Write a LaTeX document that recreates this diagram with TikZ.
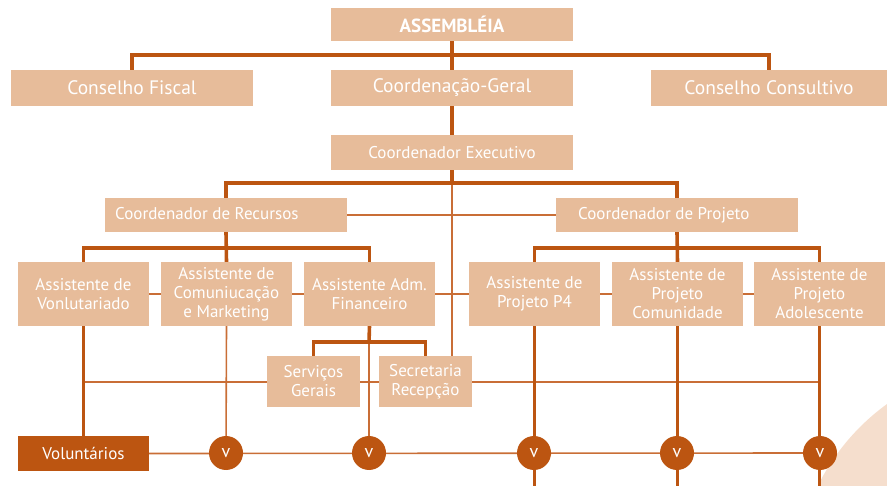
\documentclass[tikz,border=0pt]{standalone}
\usepackage{fontspec}
\setmainfont{PT Sans}
\usetikzlibrary{backgrounds}
\definecolor{boxc}{HTML}{E7BC9A}
\definecolor{dk}{HTML}{BC5511}
\definecolor{thinc}{HTML}{C96E36}
\definecolor{deco}{HTML}{F5DECD}
\tikzset{
  x=1pt,y=-1pt,
  box/.style={fill=boxc,text=white,inner sep=0pt,align=center,font=\fontsize{17}{19}\selectfont},
  bigbox/.style={box,minimum width=242pt,minimum height=36pt,font=\fontsize{19.5}{20}\selectfont},
  asst/.style={box,minimum width=131pt,minimum height=64pt},
  small/.style={box,minimum width=93pt,minimum height=51pt},
  vcirc/.style={circle,fill=dk,text=white,minimum size=34pt,inner sep=0pt,font=\fontsize{18}{18}\selectfont},
  thick line/.style={draw=dk,line width=3.6pt},
  thin line/.style={draw=thinc,line width=1.6pt},
  lbl/.style={text=white,inner sep=0pt,font=\fontsize{17}{19}\selectfont,anchor=west}
}
\begin{document}
\begin{tikzpicture}
\useasboundingbox (0,0) rectangle (887,486);
% boxes
\node[box,minimum width=242pt,minimum height=33pt,font=\bfseries\fontsize{19}{20}\selectfont] (asm) at (452,24.5) {ASSEMBLÉIA};
\node[bigbox] (cf) at (132,88) {Conselho Fiscal};
\node[bigbox] (cg) at (452,88) {Coordenação-Geral};
\node[bigbox,minimum width=236pt] (cc) at (769,88) {Conselho Consultivo};
\node[box,minimum width=242pt,minimum height=35pt] (ce) at (452,152.5) {Coordenador Executivo};
\node[box,minimum width=242pt,minimum height=34pt] (cr) at (226,215) {};
\node[lbl] (crt) at (115,214) {Coordenador de Recursos};
\node[box,minimum width=242pt,minimum height=34pt] (cp) at (677,215) {};
\node[lbl] (cpt) at (578,215) {Coordenador de Projeto};
\node[asst] (av) at (83.5,294) {Assistente de\\Vonlutariado};
\node[asst] (ac) at (226.5,294) {Assistente de\\Comuniucação\\e Marketing};
\node[asst] (aa) at (369.5,294) {Assistente Adm.\\Financeiro};
\node[asst] (ap) at (534.5,294) {Assistente de\\Projeto P4};
\node[asst] (am) at (677.5,294) {Assistente de\\Projeto\\Comunidade};
\node[asst] (ad) at (819.5,294) {Assistente de\\Projeto\\Adolescente};
\node[small] (sg) at (313.5,381.5) {Serviços\\Gerais};
\node[small] (sr) at (425.5,381.5) {Secretaria\\Recepção};
\node[box,fill=dk,minimum width=131pt,minimum height=35pt] (vol) at (83.5,453.5) {Voluntários};
\node[vcirc] (v1) at (226,453) {v};
\node[vcirc] (v2) at (369,453) {v};
\node[vcirc] (v3) at (534,453) {v};
\node[vcirc] (v4) at (677,453) {v};
\node[vcirc] (v5) at (820,453) {v};
% coordinates
\coordinate (b1) at (452,55);
\coordinate (b2) at (452,183);
\coordinate (b3) at (226,248);
\coordinate (b4) at (677,248);
\coordinate (b5) at (369,342);
\coordinate (h1) at (84,382);
\coordinate (h2) at (820,382);
\begin{scope}[on background layer]
  \begin{scope}
    \clip (0,0) rectangle (887,486);
    \fill[deco] (1017,584) circle (222);
  \end{scope}
  % thin lines
  \draw[thin line] (ce.south) -- (ce.south |- sr.north);
  \draw[thin line] (cr.east) -- (cp.west);
  \draw[thin line] (av.east) -- (ad.west);
  \draw[thin line] (h1) -- (h2);
  \draw[thin line] (ac.south) -- (v1);
  \draw[thin line] (b5) -- (v2);
  \draw[thin line] (vol.east) -- (v5);
  % thick lines
  \draw[thick line] (asm.south) -- (cg.north);
  \draw[thick line] (cf.north) |- (b1) -| (cc.north);
  \draw[thick line] (cg.south) -- (ce.north);
  \draw[thick line] (ce.south) -- (b2);
  \draw[thick line] (cr.north) |- (b2) -| (cp.north);
  \draw[thick line] (cr.south) -- (ac.north);
  \draw[thick line] (av.north) |- (b3) -| (aa.north);
  \draw[thick line] (cp.south) -- (am.north);
  \draw[thick line] (ap.north) |- (b4) -| (ad.north);
  \draw[thick line] (av.south) -- (vol.north);
  \draw[thick line] (aa.south) -- (b5);
  \draw[thick line] (sg.north) |- (b5) -| (sr.north);
  \draw[thick line] (ap.south) -- (ap.south |- 0,486);
  \draw[thick line] (am.south) -- (am.south |- 0,486);
  \draw[thick line] (ad.south) -- (ad.south |- 0,486);
\end{scope}
\end{tikzpicture}
\end{document}
